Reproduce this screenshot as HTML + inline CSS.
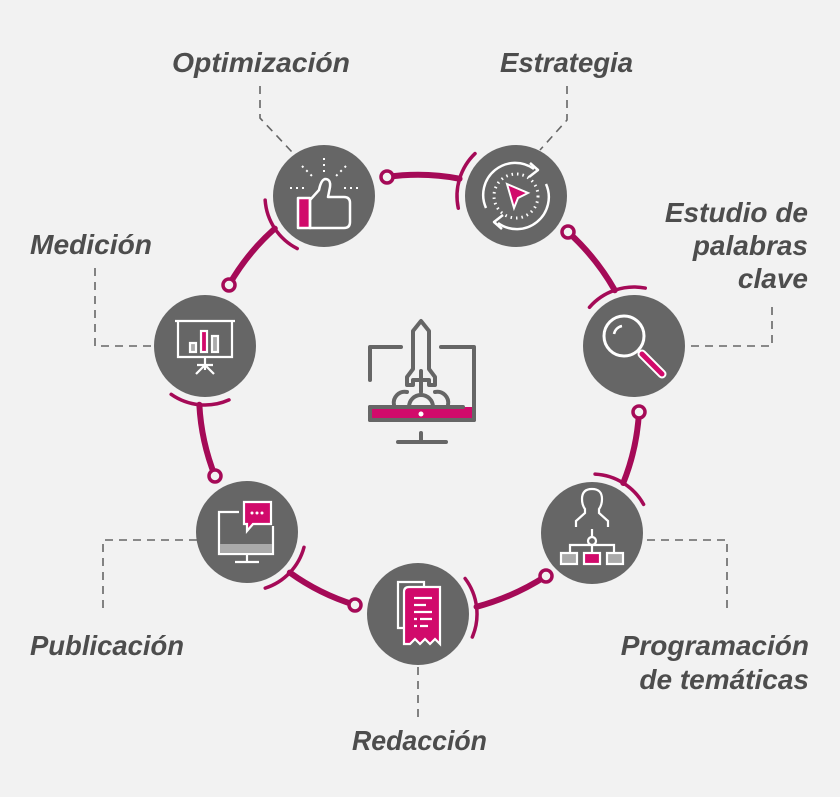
<!DOCTYPE html>
<html><head><meta charset="utf-8">
<style>
html,body{margin:0;padding:0;background:#f2f2f2;}
svg{display:block;}
text{font-family:"Liberation Sans",sans-serif;font-weight:bold;font-style:italic;fill:#4d4d4d;font-size:28px;}
</style></head>
<body>
<svg id="s" width="840" height="797" viewBox="0 0 840 797" xmlns="http://www.w3.org/2000/svg">
<rect width="840" height="797" fill="#f2f2f2"/>
<g fill="none" stroke="#666" stroke-width="1.6" stroke-dasharray="8,6">
  <path d="M260 86 V118 L292 152"/>
  <path d="M567 86 V120 L540 150"/>
  <path d="M772 307 V346 H690"/>
  <path d="M95 268 V346 H155"/>
  <path d="M103 608 V540 H197"/>
  <path d="M727 608 V540 H643"/>
  <path d="M418 667 V718"/>
</g>
<g id="ring" fill="none" stroke="#a50a57" stroke-linecap="round"></g>
<g fill="#666">
  <circle cx="324" cy="196" r="51"/>
  <circle cx="516" cy="196" r="51"/>
  <circle cx="634" cy="346" r="51"/>
  <circle cx="592" cy="533" r="51"/>
  <circle cx="418" cy="614" r="51"/>
  <circle cx="247" cy="532" r="51"/>
  <circle cx="205" cy="346" r="51"/>
</g>
<g id="dots" fill="#f2f2f2" stroke="#a50a57" stroke-width="3.5"></g>

<g transform="translate(324,196)" stroke="#fff" stroke-width="2.5" fill="none" stroke-linejoin="round">
  <rect x="-26" y="2" width="12" height="30" fill="#d10a6b"/>
  <path d="M-14,32 V4 L-5,-6 Q-3,-16 1,-17 Q7,-17 6,-9 L4,1 H20 Q26,1 26,7 V26 Q26,32 20,32 Z"/>
  <g stroke-dasharray="2,4" stroke-width="2">
    <path d="M0,-38 V-24"/><path d="M-22,-30 L-12,-20"/><path d="M22,-30 L12,-20"/>
    <path d="M-34,-8 H-20"/><path d="M20,-8 H34"/>
  </g>
</g>
<g transform="translate(516,196)" fill="none" stroke="#fff" stroke-width="2.5">
  <circle r="22" stroke-dasharray="1.5,4" stroke-width="3"/>
  <path d="M-30,12 A32,32 0 0 1 18,-27"/>
  <path d="M30,-12 A32,32 0 0 1 -18,27"/>
  <path d="M14,-33 L22,-26 L13,-19" stroke-linejoin="round"/>
  <path d="M-14,33 L-22,26 L-13,19" stroke-linejoin="round"/>
  <path d="M-9,-12 L12,-3 L2,2 L-2,12 Z" fill="#d10a6b" stroke="#fff" stroke-width="2"/>
</g>
<g transform="translate(634,346)" fill="none" stroke="#fff">
  <circle cx="-10" cy="-10" r="20" stroke-width="3"/>
  <path d="M-20,-12 A10,10 0 0 1 -12,-20" stroke-width="2.5"/>
  <path d="M8,8 L28,28" stroke="#fff" stroke-width="9" stroke-linecap="round"/>
  <path d="M8,8 L28,28" stroke="#d10a6b" stroke-width="5" stroke-linecap="round"/>
</g>
<g transform="translate(592,533)" fill="none" stroke="#fff" stroke-width="2.2">
  <path d="M-16,-6 V-12 L-7,-20 V-24 Q-10,-28 -10,-34 Q-10,-44 0,-44 Q10,-44 10,-34 Q10,-28 7,-24 V-20 L16,-12 V-6"/>
  <path d="M0,4 V-4"/>
  <circle cx="0" cy="8" r="4"/>
  <path d="M-22,20 V12 H22 V20 M0,12 V20"/>
  <rect x="-31" y="20" width="16" height="11" fill="#aaa"/>
  <rect x="-8" y="20" width="16" height="11" fill="#d10a6b"/>
  <rect x="15" y="20" width="16" height="11" fill="#aaa"/>
</g>
<g transform="translate(418,614)" fill="none" stroke="#fff" stroke-width="2.2">
  <path d="M-14,14 H-20 V-32 H6 V-24"/>
  <path d="M-14,30 V-22 Q-14,-27 -9,-27 H22 V30 L17,25 L12,30 L7,25 L2,30 L-3,25 L-8,30 Z" fill="#d10a6b"/>
  <path d="M-4,-16 H14 M-4,-9 H8 M-4,-2 H14 M-4,5 H-1 M2,5 H14 M-4,12 H-1 M2,12 H10"/>
</g>
<g transform="translate(247,532)" fill="none" stroke="#fff" stroke-width="2.2">
  <path d="M-8,-20 H-28 V22 H26 V-6"/>
  <rect x="-27" y="12" width="52" height="9" fill="#aaa" stroke="none"/>
  <path d="M0,22 V30 M-12,30 H12"/>
  <path d="M-3,-30 H24 V-8 H6 L0,-1 V-8 H-3 Z" fill="#d10a6b"/>
  <g fill="#fff" stroke="none"><circle cx="5" cy="-19" r="1.5"/><circle cx="10" cy="-19" r="1.5"/><circle cx="15" cy="-19" r="1.5"/></g>
</g>
<g transform="translate(205,346)" fill="none" stroke="#fff" stroke-width="2.2">
  <path d="M-30,-25 H30"/>
  <path d="M-27,-25 V11 H27 V-25"/>
  <rect x="-15" y="-3" width="6" height="9" fill="#aaa"/>
  <rect x="-4" y="-15" width="6" height="21" fill="#d10a6b"/>
  <rect x="7" y="-10" width="6" height="16" fill="#aaa"/>
  <path d="M0,11 V24 M-8,19 H8 M0,19 L-9,28 M0,19 L9,28"/>
</g>
<g fill="none" stroke="#666" stroke-width="4" stroke-linecap="round" stroke-linejoin="round">
  <path d="M401,347 H370 V380"/>
  <path d="M441,347 H474 V420 H370 V407"/>
  <rect x="372" y="407" width="101" height="13" fill="#d10a6b" stroke="none"/>
  <path d="M370,407 H463"/>
  <path d="M370,420 H474 V407"/>
  <path d="M421,441 V433 M398,442 H446"/>
  <path d="M421,321 L413,331 V369 L407,377 V385 H413 V380 H429 V385 H435 V377 L429,369 V331 Z"/>
  <path d="M421,371 V392"/>
  <path d="M409,407 A12,12 0 0 1 433,407"/>
  <path d="M394,405 A11,11 0 0 1 407,392"/>
  <path d="M448,405 A11,11 0 0 0 435,392"/>
</g>
<circle cx="421" cy="414" r="2.5" fill="#fff"/>

<text x="172" y="72" textLength="178" lengthAdjust="spacingAndGlyphs">Optimización</text>
<text x="500" y="72" textLength="133" lengthAdjust="spacingAndGlyphs">Estrategia</text>
<text x="808" y="222" text-anchor="end">Estudio de</text>
<text x="808" y="255" text-anchor="end">palabras</text>
<text x="808" y="288" text-anchor="end">clave</text>
<text x="30" y="254" textLength="122" lengthAdjust="spacingAndGlyphs">Medición</text>
<text x="30" y="655" textLength="154" lengthAdjust="spacingAndGlyphs">Publicación</text>
<text x="352" y="750" textLength="135" lengthAdjust="spacingAndGlyphs">Redacción</text>
<text x="809" y="655" text-anchor="end">Programación</text>
<text x="809" y="689" text-anchor="end">de temáticas</text>
</svg>
<script>
(function(){
var NS="http://www.w3.org/2000/svg";
var ring=document.getElementById('ring'),dots=document.getElementById('dots');
var C=[[324,196],[516,196],[634,346],[592,533],[418,614],[247,532],[205,346]];
var A=[[117,176],[168,226],[221,281],[273,331],[323,383],[15,72],[66,125]];
var D=[[229,285],[387,177],[568,232],[639,412],[546,576],[355,605],[215,476]];
var O=[420,398],R=59;
function el(t,a,p){var e=document.createElementNS(NS,t);for(var k in a)e.setAttribute(k,a[k]);p.appendChild(e);return e;}
function rad(d){return d*Math.PI/180;}
for(var i=0;i<7;i++){
  var c=C[i],a=A[i];
  var x1=c[0]+R*Math.cos(rad(a[0])),y1=c[1]+R*Math.sin(rad(a[0]));
  var x2=c[0]+R*Math.cos(rad(a[1])),y2=c[1]+R*Math.sin(rad(a[1]));
  el('path',{d:'M'+x1+','+y1+' A'+R+','+R+' 0 0 1 '+x2+','+y2,'stroke-width':'3.5'},ring);
  var m=(a[0]+a[1])/2, ex=c[0]+R*Math.cos(rad(m)), ey=c[1]+R*Math.sin(rad(m));
  var d=D[i];
  var mx=(d[0]+ex)/2,my=(d[1]+ey)/2,vx=mx-O[0],vy=my-O[1],L=Math.sqrt(vx*vx+vy*vy);
  var cx=mx+vx/L*6,cy=my+vy/L*6;
  el('path',{d:'M'+d[0]+','+d[1]+' Q'+cx+','+cy+' '+ex+','+ey,'stroke-width':'6'},ring);
}
for(var j=0;j<7;j++)el('circle',{cx:D[j][0],cy:D[j][1],r:6},dots);
})();
</script>
</body></html>
